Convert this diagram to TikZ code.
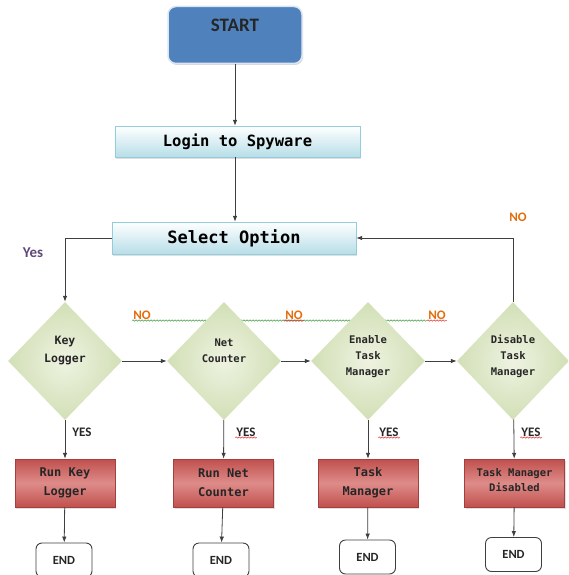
\documentclass[tikz,border=0pt]{standalone}
\usepackage{fontspec}
\setmainfont{Carlito}
\newfontfamily\codefont{DejaVu Sans Mono}
\usetikzlibrary{shapes.geometric,arrows.meta,shadows,decorations.pathmorphing}

\definecolor{startblue}{HTML}{4F81BD}
\definecolor{startrim}{HTML}{DCE6F2}
\definecolor{boxblue}{HTML}{B7DEE8}
\definecolor{boxrim}{HTML}{93CDDD}
\definecolor{diagreen}{HTML}{D2DFB6}
\definecolor{dialight}{HTML}{EEF3E1}
\definecolor{runred}{HTML}{C0504D}
\definecolor{runlight}{HTML}{DE8C8A}
\definecolor{runrim}{HTML}{A43F3D}
\definecolor{linegray}{HTML}{3F3F3F}
\definecolor{textgray}{HTML}{262626}
\definecolor{noorange}{HTML}{E46C0A}
\definecolor{yespurple}{HTML}{5F497A}
\definecolor{spellgreen}{HTML}{3C9A3C}
\definecolor{spellred}{HTML}{E03030}

\begin{document}
\begin{tikzpicture}[x=1pt,y=-1pt,>={Latex[length=6pt,width=4.5pt]}]

        \useasboundingbox (0,0) rectangle (568,575);

        % labels on the connectors
        \begin{scope}[every node/.style={font=\bfseries\fontsize{13}{15}\selectfont,inner sep=1pt}]
          \node[text=yespurple,font=\bfseries\fontsize{15}{17}\selectfont] (yes0) at (33,253) {Yes};
          \node[text=noorange] (no0) at (518,217) {NO};
          \node[text=noorange] (no1) at (142,315) {NO};
          \node[text=noorange] (no2) at (294,315) {NO};
          \node[text=noorange] (no3) at (437,315) {NO};
          \node[text=textgray] (yes1) at (82,432) {YES};
          \node[text=textgray] (yes2) at (246,432) {YES};
          \node[text=textgray] (yes3) at (389,432) {YES};
          \node[text=textgray] (yes4) at (531,432) {YES};
        \end{scope}

        \begin{scope}[every path/.style={decorate,decoration={snake,amplitude=0.7pt,segment length=3pt},line width=0.5pt}]
          \draw[spellgreen] (no1.south west) -- (no3.south west);
          \draw[spellred] (no2.south west) -- (no2.south east);
          \draw[spellred] (no3.south west) -- (no3.south east);
          \draw[spellred] (yes2.south west) -- (yes2.south east);
          \draw[spellred] (yes3.south west) -- (yes3.south east);
          \draw[spellred] (yes4.south west) -- (yes4.south east);
        \end{scope}

        \node[rectangle,rounded corners=8pt,fill=startblue,draw=startrim,line width=1.5pt,
              drop shadow={opacity=0.3,shadow xshift=1pt,shadow yshift=-1.5pt},
              minimum width=134pt,minimum height=57pt,text depth=20pt,text=textgray,
              font=\bfseries\fontsize{19}{22}\selectfont] (start) at (235,35) {START};

        \begin{scope}[every node/.style={rectangle,top color=white,bottom color=boxblue,draw=boxrim,
              drop shadow={opacity=0.25,shadow xshift=1pt,shadow yshift=-1.5pt},text=black}]
          \node[minimum width=245pt,minimum height=31pt,font=\codefont\bfseries\fontsize{15.5}{18}\selectfont]
            (login) at (237.5,141.5) {Login to Spyware};
          \node[minimum width=244pt,minimum height=32pt,font=\codefont\bfseries\fontsize{17}{20}\selectfont]
            (select) at (234,238) {Select Option};
        \end{scope}

        \begin{scope}[every node/.style={diamond,inner sep=0pt,inner color=dialight,outer color=diagreen,
              minimum width=114pt,minimum height=118pt,align=center,text=textgray,
              font=\codefont\bfseries\fontsize{10.5}{16}\selectfont}]
          \node[font=\codefont\bfseries\fontsize{11.5}{18}\selectfont,text depth=23pt] (keylog) at (65,361) {Key\\Logger};
          \node[text depth=20pt] (netcnt) at (224,361) {Net\\Counter};
          \node[text depth=11pt] (enable) at (368,361) {Enable\\Task\\Manager};
          \node[text depth=11pt,minimum width=112pt] (disable) at (513,361) {Disable\\Task\\Manager};
        \end{scope}

        \begin{scope}[every node/.style={rectangle,top color=runred,bottom color=runred,middle color=runlight,
              draw=runrim,drop shadow={opacity=0.25,shadow xshift=1pt,shadow yshift=-1.5pt},
              minimum width=100pt,minimum height=48pt,align=center,text=textgray,
              font=\codefont\bfseries\fontsize{12}{19}\selectfont}]
          \node (runkey) at (65,483) {Run Key\\Logger};
          \node (runnet) at (223.5,483) {Run Net\\Counter};
          \node (runtask) at (368,483) {Task\\Manager};
          \node[font=\codefont\bfseries\fontsize{10.5}{15}\selectfont,text depth=6pt] (taskoff) at (514.5,483) {Task Manager\\Disabled};
        \end{scope}

        \begin{scope}[every node/.style={rectangle,rounded corners=6pt,draw=linegray,line width=0.9pt,fill=white,
              minimum width=56pt,minimum height=34pt,text=textgray,font=\bfseries\fontsize{12.5}{15}\selectfont}]
          \node (end1) at (64,560) {END};
          \node (end2) at (221,560) {END};
          \node (end3) at (367.5,557) {END};
          \node (end4) at (513.5,554.5) {END};
        \end{scope}

        \begin{scope}[every path/.style={draw=linegray,line width=0.8pt}]
          \begin{scope}[every edge/.style={draw,->}]
            \path (start.south) edge (start.south |- login.north);
            \path (start.south |- login.south) edge (start.south |- select.north);
            \path (keylog) edge (netcnt);
            \path (netcnt) edge (enable);
            \path (enable) edge (disable);
            \path (keylog) edge (runkey);
            \path (netcnt) edge (runnet);
            \path (enable) edge (runtask);
            \path (disable) edge (taskoff);
            \path (runkey) edge (end1);
            \path (runnet) edge (end2);
            \path (runtask) edge (end3);
            \path (taskoff) edge (end4);
          \end{scope}
          \draw[->] (select.west) -| (keylog.north);
          \draw[->] (disable.north) |- (select.east);
        \end{scope}

\end{tikzpicture}
\end{document}
